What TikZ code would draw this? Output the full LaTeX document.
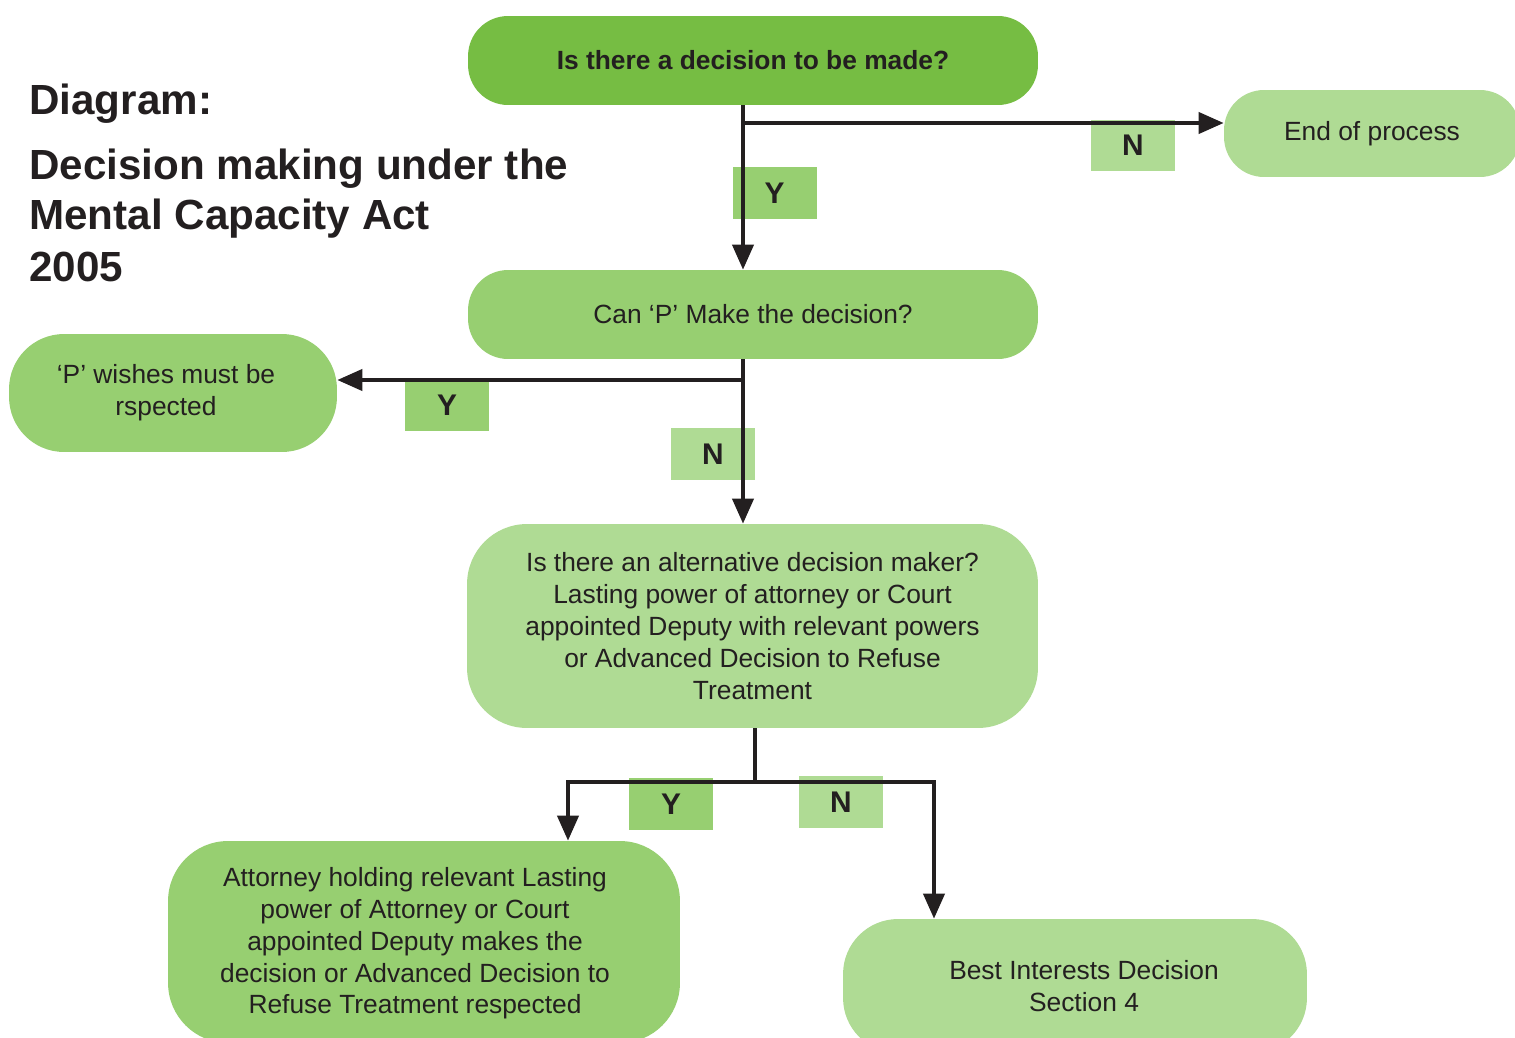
\documentclass[tikz,border=0pt]{standalone}
\usepackage{fontspec}
\setmainfont{Liberation Sans}
\usetikzlibrary{arrows.meta}
\definecolor{ink}{HTML}{231F20}
\definecolor{gdark}{HTML}{76BD43}
\definecolor{gmed}{HTML}{97CF71}
\definecolor{glight}{HTML}{AFDB94}
\begin{document}
\begin{tikzpicture}[x=0.02cm,y=-0.02cm,
  box/.style={draw=none, align=center, inner sep=0pt, text=ink, font=\fontsize{15}{18.1}\selectfont},
  lab/.style={minimum width=1.68cm, minimum height=1.04cm, inner sep=0pt, text=ink, font=\bfseries\fontsize{17}{17}\selectfont},
  ttl/.style={anchor=base west, inner sep=0pt, text=ink, font=\bfseries\fontsize{24}{29}\selectfont},
  conn/.style={draw=ink, line width=0.08cm},
  arr/.style={conn, -{Triangle[length=0.5cm,width=0.42cm]}}]
\useasboundingbox (0,0) rectangle (1515,1038);
\clip (0,0) rectangle (1515,1038);

% title
\node[ttl] (t1) at (29,114) {Diagram:};
\node[ttl] (t2) at (29,179) {Decision making under the};
\node[ttl] (t3) at (29,229) {Mental Capacity Act};
\node[ttl] (t4) at (29,281) {2005};

% boxes
\node[box, fill=gdark, minimum width=11.4cm, minimum height=1.78cm, rounded corners=0.8cm,
  font=\bfseries\fontsize{15}{18}\selectfont] (top) at (753,60.5) {Is there a decision to be made?};
\node[box, fill=glight, minimum width=5.92cm, minimum height=1.74cm, rounded corners=0.8cm] (endp) at (1372,133.5) {End of process};
\node[box, fill=gmed, minimum width=11.4cm, minimum height=1.78cm, rounded corners=0.8cm] (canp) at (753,314.5) {Can ‘P’ Make the decision?};
\node[box, fill=gmed, minimum width=6.56cm, minimum height=2.36cm, rounded corners=1.1cm,
  label={[box, xshift=-0.14cm]center:‘P’ wishes must be\\rspected}] (pw) at (173,393) {};
\node[box, fill=glight, minimum width=11.42cm, minimum height=4.08cm, rounded corners=1.2cm] (alt) at (752.5,626) {Is there an alternative decision maker?\\Lasting power of attorney or Court\\appointed Deputy with relevant powers\\or Advanced Decision to Refuse\\Treatment};
\node[box, fill=gmed, minimum width=10.24cm, minimum height=4.04cm, rounded corners=1.2cm,
  label={[box, xshift=-0.18cm, yshift=-0.03cm]center:Attorney holding relevant Lasting\\power of Attorney or Court\\appointed Deputy makes the\\decision or Advanced Decision to\\Refuse Treatment respected}] (att) at (424,942) {};
\node[box, fill=glight, minimum width=9.28cm, minimum height=2.68cm, rounded corners=1.1cm,
  label={[box, xshift=0.18cm]center:Best Interests Decision\\Section 4}] (best) at (1075,986) {};

% Y/N labels
\node[lab, fill=gmed] (y1) at (774.5,193) {Y};
\node[lab, fill=glight] (n1) at (1133,145.5) {N};
\node[lab, fill=gmed] (y2) at (447,405) {Y};
\node[lab, fill=glight] (n2) at (713,454) {N};
\node[lab, fill=gmed] (y3) at (671,804) {Y};
\node[lab, fill=glight] (n3) at (841,802) {N};

% junctions
\coordinate (j1) at (743,123);
\coordinate (j2) at (743,380);
\coordinate (j3) at (755,782);
\coordinate (jl) at (568,782);
\coordinate (jr) at (934,782);

% connectors
\draw[arr] (top.south -| j1) -- (canp.north -| j1);
\draw[arr] (j1) -- (j1 -| endp.west);
\draw[arr] (canp.south -| j2) -- (alt.north -| j2);
\draw[arr] (j2) -- (j2 -| pw.east);
\draw[conn] (alt.south -| j3) -- (j3);
\draw[arr] (j3) -- (jl) -- (att.north -| jl);
\draw[arr] (j3) -- (jr) -- (best.north -| jr);
\end{tikzpicture}
\end{document}
